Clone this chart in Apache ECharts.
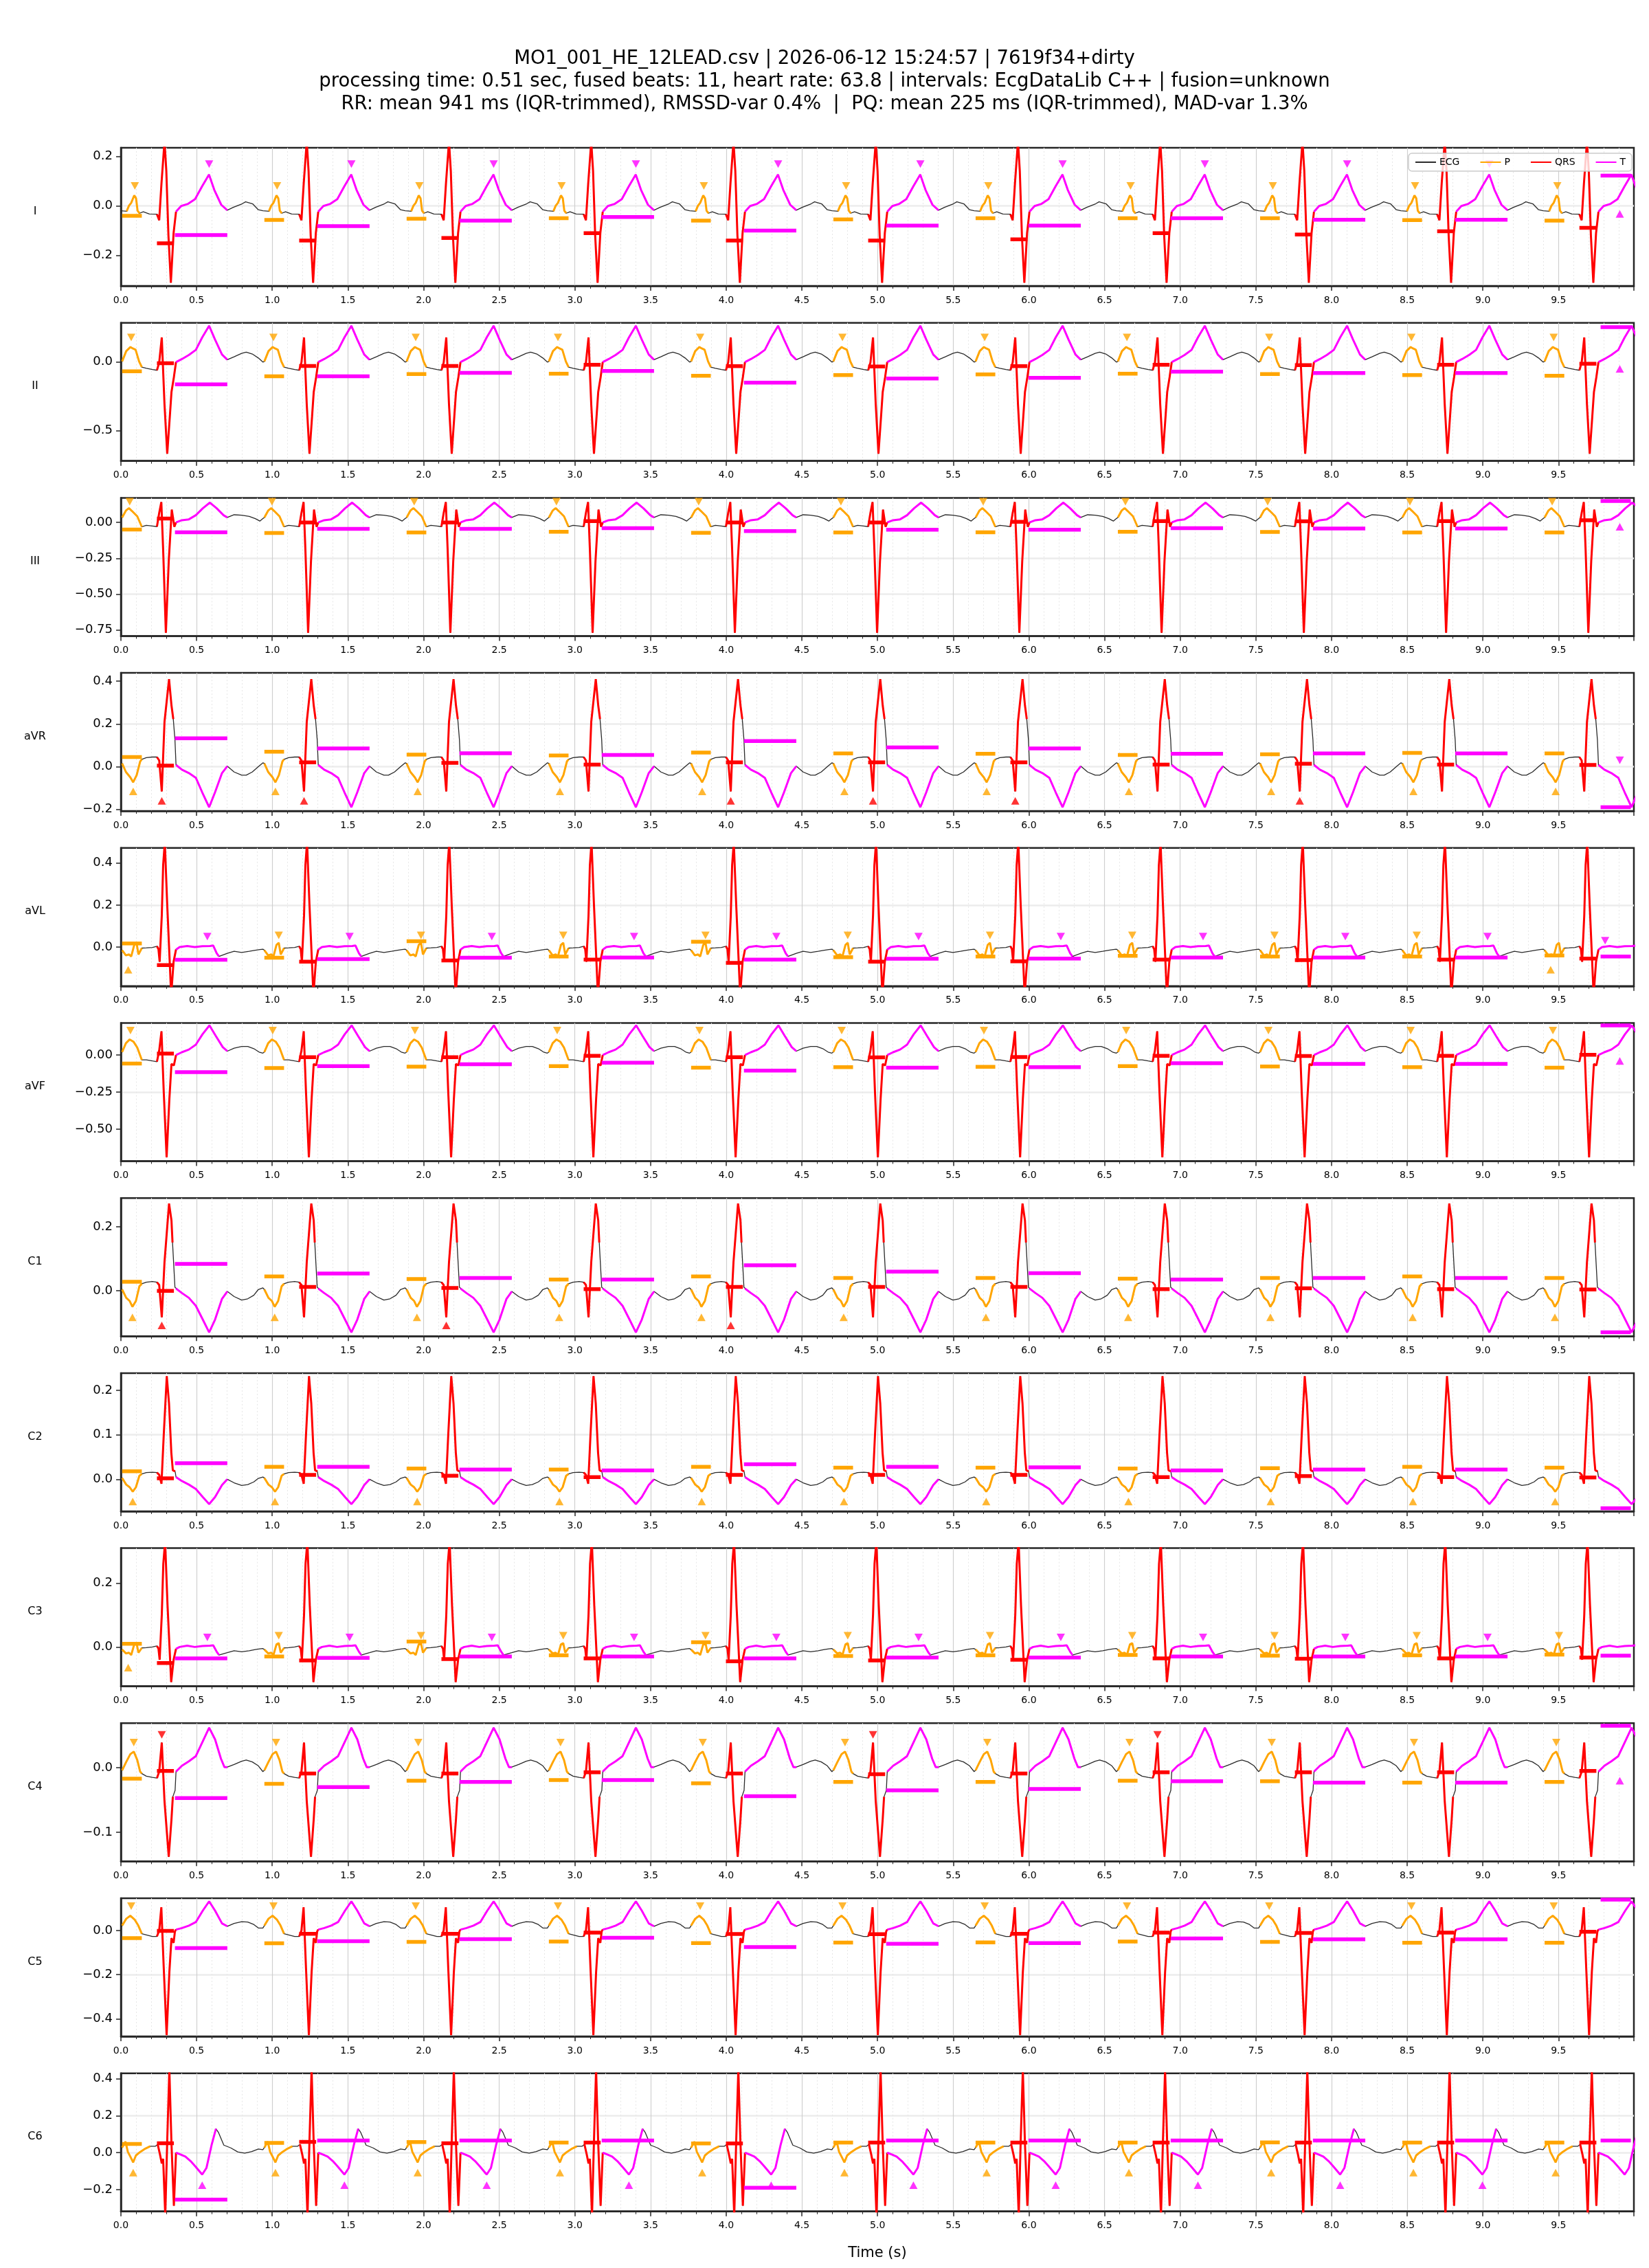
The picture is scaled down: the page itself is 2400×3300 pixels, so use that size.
<!DOCTYPE html>
<html>
<head>
<meta charset="utf-8">
<title>12-lead ECG</title>
<script src="https://cdn.jsdelivr.net/npm/echarts@6/dist/echarts.min.js"></script>
<style>
  html, body { margin: 0; padding: 0; background: #fff; }
  #chart { width: 2400px; height: 3300px; }
</style>
</head>
<body>
<div id="chart"></div>
<script>
// ---- data ----
const LEADS = ['I', 'II', 'III', 'aVR', 'aVL', 'aVF', 'C1', 'C2', 'C3', 'C4', 'C5', 'C6'];
const BEAT_R = [0.288, 1.228, 2.168, 3.108, 4.048, 4.988, 5.928, 6.868, 7.808, 8.748, 9.688];
const X_MAX = 9.998;
const X_TICK_STEP = 0.5;

const Y_MIN = [-0.323, -0.723, -0.793, -0.208, -0.186, -0.716, -0.142, -0.072, -0.123, -0.145, -0.48, -0.318];
const Y_MAX = [0.234, 0.287, 0.172, 0.439, 0.472, 0.216, 0.29, 0.239, 0.309, 0.069, 0.146, 0.43];
const Y_TICKS = [
  [-0.2, 0, 0.2], [-0.5, 0], [-0.75, -0.5, -0.25, 0], [-0.2, 0, 0.2, 0.4],
  [0, 0.2, 0.4], [-0.5, -0.25, 0], [0, 0.2], [0, 0.1, 0.2],
  [0, 0.2], [-0.1, 0], [-0.4, -0.2, 0], [-0.2, 0, 0.2, 0.4]
];
const Y_DECIMALS = [1, 1, 2, 1, 1, 2, 1, 1, 1, 1, 1, 1];

// bar spans relative to R peak (s): P, QRS, T; the last beat's T bar is cut short
const BAR_SPANS = [[-0.28, -0.15], [-0.05, 0.062], [0.069, 0.415]];
const LAST_T_SPAN = [0.09, 0.29];
const ALL = [0, 1, 2, 3, 4, 5, 6, 7, 8, 9, 10];
const FIRST10 = [0, 1, 2, 3, 4, 5, 6, 7, 8, 9];
const MID = [1, 2, 3, 4, 5, 6, 7, 8, 9];

// beat templates: [offset from R (s), mV]
const I_TPL = [[-0.29,-0.02],[-0.25,-0.022],[-0.235,0.0],[-0.22,0.012],[-0.2,0.042],[-0.188,0.03],[-0.178,-0.02],[-0.165,-0.03],[-0.14,-0.024],[-0.1,-0.033],[-0.05,-0.034],[-0.035,-0.058],[-0.02,0.09],[0,0.26],[0.012,0.14],[0.026,-0.12],[0.042,-0.31],[0.06,-0.11],[0.076,-0.024],[0.11,-0.001],[0.156,0.008],[0.202,0.027],[0.248,0.078],[0.294,0.126],[0.329,0.064],[0.375,0.004],[0.415,-0.018],[0.455,-0.006],[0.513,0.008],[0.536,0.016],[0.582,0.008],[0.62,-0.016]];
const II_TPL = [[-0.29,0.0],[-0.28,0.005],[-0.253,0.08],[-0.225,0.11],[-0.21,0.1],[-0.191,0.09],[-0.168,0.005],[-0.15,-0.037],[-0.12,-0.045],[-0.08,-0.054],[-0.05,-0.06],[-0.035,-0.003],[-0.018,0.18],[0,-0.31],[0.018,-0.67],[0.035,-0.4],[0.046,-0.22],[0.062,-0.11],[0.076,0.0],[0.115,0.022],[0.161,0.052],[0.207,0.089],[0.249,0.18],[0.295,0.265],[0.334,0.164],[0.38,0.055],[0.415,0.017],[0.46,0.039],[0.51,0.064],[0.54,0.072],[0.58,0.059],[0.62,0.03]];
const III_TPL = [[-0.29,0.027],[-0.28,0.035],[-0.255,0.083],[-0.235,0.1],[-0.215,0.08],[-0.18,0.043],[-0.15,-0.03],[-0.12,-0.02],[-0.08,-0.025],[-0.05,-0.029],[-0.035,0.067],[-0.021,0.143],[-0.009,-0.19],[0.009,-0.77],[0.028,-0.27],[0.048,0.09],[0.065,-0.03],[0.076,0.0],[0.115,0.016],[0.161,0.022],[0.207,0.051],[0.253,0.099],[0.3,0.139],[0.345,0.099],[0.39,0.051],[0.415,0.035],[0.46,0.054],[0.51,0.051],[0.56,0.043],[0.6,0.027],[0.63,0.01]];
const AVR_TPL = [[-0.29,0.018],[-0.28,0.015],[-0.255,-0.025],[-0.226,-0.05],[-0.207,-0.073],[-0.184,-0.04],[-0.161,0.024],[-0.15,0.034],[-0.12,0.042],[-0.08,0.045],[-0.05,0.045],[-0.035,0.029],[-0.018,-0.116],[0,0.21],[0.03,0.41],[0.046,0.287],[0.058,0.223],[0.069,0.126],[0.076,0.008],[0.115,-0.014],[0.161,-0.03],[0.207,-0.052],[0.249,-0.12],[0.295,-0.19],[0.334,-0.12],[0.38,-0.03],[0.415,0.002],[0.46,-0.025],[0.51,-0.04],[0.54,-0.04],[0.58,-0.025],[0.62,0.0]];
const AVL_TPL = [[-0.29,-0.01],[-0.28,-0.015],[-0.255,-0.04],[-0.235,-0.035],[-0.22,-0.045],[-0.2,0.01],[-0.185,0.02],[-0.172,-0.035],[-0.15,-0.005],[-0.12,-0.004],[-0.08,-0.002],[-0.05,0.004],[-0.04,-0.01],[-0.032,-0.07],[-0.018,0.15],[-0.009,0.39],[0.002,0.5],[0.018,0.2],[0.044,-0.23],[0.06,-0.07],[0.076,-0.012],[0.1,0.0],[0.15,0.005],[0.2,0.0],[0.25,0.004],[0.3,0.005],[0.322,0.007],[0.345,-0.03],[0.36,-0.045],[0.415,-0.03],[0.46,-0.02],[0.51,-0.026],[0.56,-0.02],[0.6,-0.015],[0.63,-0.012]];
const AVF_TPL = [[-0.29,0.013],[-0.28,0.02],[-0.255,0.08],[-0.23,0.105],[-0.205,0.09],[-0.18,0.05],[-0.15,-0.033],[-0.12,-0.033],[-0.08,-0.04],[-0.05,-0.045],[-0.035,0.03],[-0.02,0.16],[-0.005,-0.25],[0.014,-0.69],[0.032,-0.3],[0.046,-0.06],[0.062,-0.07],[0.076,0.0],[0.115,0.019],[0.161,0.037],[0.207,0.07],[0.251,0.14],[0.297,0.2],[0.338,0.13],[0.385,0.053],[0.415,0.026],[0.46,0.046],[0.51,0.058],[0.55,0.058],[0.59,0.043],[0.625,0.02]];
const C1_TPL = [[-0.29,0.009],[-0.28,0.004],[-0.253,-0.022],[-0.23,-0.032],[-0.212,-0.05],[-0.189,-0.032],[-0.166,0.014],[-0.15,0.022],[-0.12,0.027],[-0.08,0.029],[-0.05,0.027],[-0.035,0.018],[-0.018,-0.083],[0,0.09],[0.03,0.273],[0.046,0.22],[0.053,0.151],[0.069,0.011],[0.076,0.007],[0.115,-0.007],[0.161,-0.022],[0.207,-0.047],[0.253,-0.09],[0.295,-0.13],[0.334,-0.09],[0.38,-0.025],[0.415,-0.002],[0.46,-0.018],[0.51,-0.029],[0.55,-0.025],[0.59,-0.014],[0.62,0.004]];
const C2_TPL = [[-0.29,0.005],[-0.28,0.003],[-0.253,-0.012],[-0.23,-0.018],[-0.21,-0.028],[-0.189,-0.018],[-0.166,0.008],[-0.15,0.012],[-0.12,0.015],[-0.08,0.016],[-0.05,0.015],[-0.035,0.01],[-0.02,-0.01],[-0.005,0.1],[0.015,0.232],[0.03,0.17],[0.045,0.06],[0.055,0.02],[0.07,0.018],[0.076,0.005],[0.115,-0.004],[0.161,-0.012],[0.207,-0.022],[0.253,-0.04],[0.295,-0.056],[0.334,-0.04],[0.38,-0.013],[0.415,0.0],[0.46,-0.008],[0.51,-0.014],[0.55,-0.012],[0.59,-0.006],[0.62,0.002]];
const C3_TPL = [[-0.29,-0.005],[-0.28,-0.008],[-0.255,-0.02],[-0.235,-0.018],[-0.22,-0.025],[-0.2,0.008],[-0.185,0.012],[-0.172,-0.018],[-0.15,-0.003],[-0.12,-0.002],[-0.08,0.0],[-0.05,0.003],[-0.04,-0.005],[-0.032,-0.04],[-0.018,0.1],[-0.008,0.26],[0.004,0.33],[0.02,0.13],[0.044,-0.11],[0.06,-0.04],[0.076,-0.006],[0.1,0.0],[0.15,0.004],[0.2,0.0],[0.25,0.003],[0.3,0.004],[0.322,0.005],[0.345,-0.015],[0.36,-0.025],[0.415,-0.018],[0.46,-0.012],[0.51,-0.015],[0.56,-0.012],[0.6,-0.008],[0.63,-0.006]];
const C4_TPL = [[-0.29,-0.006],[-0.28,-0.004],[-0.253,0.009],[-0.226,0.021],[-0.203,0.025],[-0.18,0.012],[-0.161,-0.006],[-0.15,-0.009],[-0.12,-0.013],[-0.08,-0.015],[-0.05,-0.016],[-0.035,-0.006],[-0.018,0.039],[0,-0.052],[0.028,-0.138],[0.046,-0.08],[0.055,-0.045],[0.07,-0.035],[0.076,-0.006],[0.115,0.003],[0.161,0.01],[0.207,0.018],[0.253,0.041],[0.295,0.062],[0.334,0.044],[0.373,0.014],[0.396,0.001],[0.415,0.001],[0.46,0.005],[0.51,0.01],[0.54,0.012],[0.58,0.009],[0.62,0.003]];
const C5_TPL = [[-0.29,0.011],[-0.28,0.022],[-0.253,0.053],[-0.226,0.067],[-0.196,0.048],[-0.173,0.022],[-0.15,-0.015],[-0.12,-0.02],[-0.08,-0.027],[-0.05,-0.027],[-0.035,0.0],[-0.021,0.105],[-0.005,-0.17],[0.014,-0.474],[0.032,-0.19],[0.046,-0.035],[0.06,-0.056],[0.069,-0.004],[0.076,0.004],[0.115,0.011],[0.161,0.022],[0.207,0.038],[0.253,0.09],[0.295,0.132],[0.334,0.09],[0.38,0.032],[0.415,0.019],[0.46,0.032],[0.51,0.04],[0.55,0.038],[0.59,0.027],[0.62,0.011]];
const C6_TPL = [[-0.29,0.016],[-0.28,0.028],[-0.258,0.06],[-0.242,0.004],[-0.226,-0.021],[-0.207,-0.052],[-0.189,-0.015],[-0.161,0.004],[-0.127,0.022],[-0.095,0.035],[-0.06,0.035],[-0.045,0.045],[-0.03,-0.009],[-0.018,-0.058],[-0.009,-0.033],[0.005,-0.34],[0.018,0.066],[0.032,0.45],[0.046,0.05],[0.062,-0.287],[0.076,0.0],[0.104,-0.009],[0.138,-0.021],[0.173,-0.046],[0.207,-0.077],[0.249,-0.118],[0.277,-0.083],[0.311,0.041],[0.34,0.13],[0.357,0.109],[0.392,0.041],[0.438,0.026],[0.484,0.004],[0.53,-0.002],[0.576,0.006],[0.62,0.02]];

// wave windows per lead (offset from R): P, QRS, T
const I_SEG = [[-0.25, -0.165], [-0.05, 0.076], [0.076, 0.415]];
const II_SEG = [[-0.28, -0.15], [-0.05, 0.076], [0.076, 0.415]];
const III_SEG = [[-0.28, -0.15], [-0.05, 0.076], [0.076, 0.415]];
const AVR_SEG = [[-0.28, -0.15], [-0.05, 0.058], [0.076, 0.415]];
const AVL_SEG = [[-0.28, -0.15], [-0.05, 0.076], [0.076, 0.36]];
const AVF_SEG = [[-0.28, -0.15], [-0.05, 0.076], [0.076, 0.415]];
const C1_SEG = [[-0.28, -0.15], [-0.05, 0.053], [0.076, 0.415]];
const C2_SEG = [[-0.28, -0.15], [-0.05, 0.07], [0.076, 0.415]];
const C3_SEG = [[-0.28, -0.15], [-0.05, 0.076], [0.076, 0.36]];
const C4_SEG = [[-0.28, -0.15], [-0.05, 0.055], [0.076, 0.415]];
const C5_SEG = [[-0.28, -0.15], [-0.05, 0.076], [0.076, 0.415]];
const C6_SEG = [[-0.28, -0.095], [-0.045, 0.076], [0.076, 0.34]];

// per-beat bar levels: P, QRS, T
const I_PBAR = [-0.040,-0.057,-0.052,-0.050,-0.060,-0.055,-0.050,-0.050,-0.050,-0.058,-0.060];
const I_QBAR = [-0.151,-0.140,-0.130,-0.110,-0.140,-0.140,-0.135,-0.110,-0.116,-0.103,-0.089];
const I_TBAR = [-0.118,-0.082,-0.060,-0.045,-0.100,-0.080,-0.080,-0.050,-0.056,-0.056,0.122];
const II_PBAR = [-0.067,-0.104,-0.087,-0.085,-0.100,-0.095,-0.090,-0.085,-0.088,-0.095,-0.100];
const II_QBAR = [-0.008,-0.029,-0.029,-0.020,-0.030,-0.032,-0.030,-0.020,-0.022,-0.020,-0.012];
const II_TBAR = [-0.163,-0.104,-0.079,-0.065,-0.150,-0.120,-0.115,-0.070,-0.080,-0.080,0.255];
const III_PBAR = [-0.049,-0.073,-0.070,-0.065,-0.072,-0.070,-0.068,-0.065,-0.066,-0.070,-0.070];
const III_QBAR = [0.027,0.000,0.000,0.010,0.000,0.000,0.005,0.010,0.008,0.010,0.015];
const III_TBAR = [-0.068,-0.045,-0.045,-0.040,-0.060,-0.050,-0.050,-0.040,-0.042,-0.042,0.150];
const AVR_PBAR = [0.045,0.070,0.056,0.052,0.066,0.062,0.060,0.055,0.058,0.064,0.062];
const AVR_QBAR = [0.005,0.020,0.018,0.010,0.020,0.020,0.020,0.010,0.014,0.010,0.008];
const AVR_TBAR = [0.133,0.085,0.063,0.055,0.120,0.090,0.085,0.060,0.062,0.062,-0.190];
const AVL_PBAR = [0.017,-0.051,0.028,-0.045,0.025,-0.048,-0.045,-0.042,-0.045,-0.045,-0.040];
const AVL_QBAR = [-0.086,-0.070,-0.064,-0.060,-0.075,-0.070,-0.068,-0.060,-0.062,-0.060,-0.055];
const AVL_TBAR = [-0.061,-0.057,-0.051,-0.050,-0.060,-0.056,-0.055,-0.050,-0.050,-0.050,-0.045];
const AVF_PBAR = [-0.058,-0.088,-0.078,-0.075,-0.085,-0.082,-0.080,-0.075,-0.077,-0.082,-0.085];
const AVF_QBAR = [0.010,-0.015,-0.015,-0.005,-0.015,-0.016,-0.013,-0.005,-0.007,-0.005,0.002];
const AVF_TBAR = [-0.115,-0.075,-0.062,-0.052,-0.105,-0.085,-0.082,-0.055,-0.060,-0.060,0.200];
const C1_PBAR = [0.028,0.045,0.037,0.035,0.045,0.040,0.040,0.038,0.040,0.045,0.040];
const C1_QBAR = [0.000,0.012,0.009,0.005,0.012,0.012,0.012,0.005,0.008,0.005,0.004];
const C1_TBAR = [0.084,0.054,0.040,0.035,0.080,0.060,0.055,0.035,0.040,0.040,-0.130];
const C2_PBAR = [0.018,0.028,0.024,0.022,0.028,0.026,0.026,0.024,0.025,0.028,0.026];
const C2_QBAR = [0.002,0.010,0.008,0.005,0.010,0.010,0.010,0.005,0.007,0.005,0.004];
const C2_TBAR = [0.036,0.028,0.022,0.020,0.034,0.028,0.027,0.020,0.022,0.022,-0.065];
const C3_PBAR = [0.010,-0.030,0.017,-0.026,0.015,-0.028,-0.026,-0.025,-0.027,-0.026,-0.024];
const C3_QBAR = [-0.050,-0.042,-0.038,-0.036,-0.045,-0.042,-0.040,-0.036,-0.037,-0.036,-0.033];
const C3_TBAR = [-0.036,-0.034,-0.030,-0.030,-0.036,-0.033,-0.033,-0.030,-0.030,-0.030,-0.027];
const C4_PBAR = [-0.017,-0.025,-0.020,-0.019,-0.024,-0.022,-0.022,-0.020,-0.021,-0.023,-0.022];
const C4_QBAR = [-0.005,-0.009,-0.009,-0.007,-0.009,-0.010,-0.009,-0.007,-0.007,-0.007,-0.005];
const C4_TBAR = [-0.047,-0.030,-0.022,-0.019,-0.044,-0.035,-0.033,-0.021,-0.023,-0.023,0.065];
const C5_PBAR = [-0.035,-0.058,-0.052,-0.050,-0.057,-0.055,-0.054,-0.050,-0.052,-0.056,-0.056];
const C5_QBAR = [-0.002,-0.015,-0.015,-0.010,-0.016,-0.017,-0.015,-0.010,-0.011,-0.010,-0.006];
const C5_TBAR = [-0.080,-0.049,-0.039,-0.033,-0.075,-0.060,-0.057,-0.036,-0.040,-0.040,0.140];
const C6_PBAR = [0.047,0.053,0.058,0.055,0.050,0.055,0.055,0.055,0.056,0.055,0.055];
const C6_QBAR = [0.051,0.059,0.051,0.055,0.050,0.055,0.055,0.055,0.055,0.055,0.055];
const C6_TBAR = [-0.254,0.066,0.066,0.066,-0.190,0.066,0.066,0.066,0.066,0.066,0.066];

// markers: [wave, offset from R, mV, direction, beats]
const I_MARKS = [['P', -0.196, 0.08, 'down', ALL], ['T', 0.295, 0.168, 'down', FIRST10], ['T', 0.217, -0.033, 'up', [10]]];
const II_MARKS = [['P', -0.22, 0.18, 'down', ALL], ['T', 0.217, -0.05, 'up', [10]]];
const III_MARKS = [['P', -0.23, 0.145, 'down', ALL], ['T', 0.217, -0.03, 'up', [10]]];
const AVR_MARKS = [['P', -0.207, -0.116, 'up', ALL], ['QRS', -0.018, -0.16, 'up', [0, 1, 4, 5, 6, 8]], ['T', 0.217, 0.03, 'down', [10]]];
const AVL_MARKS = [['P', -0.24, -0.108, 'up', [0, 10]], ['P', -0.185, 0.056, 'down', MID], ['T', 0.283, 0.05, 'down', FIRST10], ['T', 0.12, 0.03, 'down', [10]]];
const AVF_MARKS = [['P', -0.225, 0.165, 'down', ALL], ['T', 0.217, -0.04, 'up', [10]]];
const C1_MARKS = [['P', -0.212, -0.083, 'up', ALL], ['QRS', -0.018, -0.108, 'up', [0, 2, 4]]];
const C2_MARKS = [['P', -0.21, -0.05, 'up', ALL]];
const C3_MARKS = [['P', -0.24, -0.065, 'up', [0]], ['P', -0.185, 0.035, 'down', [1, 2, 3, 4, 5, 6, 7, 8, 9, 10]], ['T', 0.283, 0.03, 'down', FIRST10]];
const C4_MARKS = [['P', -0.203, 0.039, 'down', ALL], ['QRS', -0.018, 0.051, 'down', [0, 5, 7]], ['T', 0.217, -0.02, 'up', [10]]];
const C5_MARKS = [['P', -0.22, 0.11, 'down', ALL]];
const C6_MARKS = [['P', -0.207, -0.108, 'up', ALL], ['T', 0.249, -0.176, 'up', FIRST10]];

const TITLE_LINES = [
  'MO1_001_HE_12LEAD.csv | 2026-06-12 15:24:57 | 7619f34+dirty',
  'processing time: 0.51 sec, fused beats: 11, heart rate: 63.8 | intervals: EcgDataLib C++ | fusion=unknown',
  'RR: mean 941 ms (IQR-trimmed), RMSSD-var 0.4%  |  PQ: mean 225 ms (IQR-trimmed), MAD-var 1.3%'
];

// ---- table built from the arrays above ----
const LEAD_TABLE = [
  [I_TPL, I_SEG, I_PBAR, I_QBAR, I_TBAR, I_MARKS],
  [II_TPL, II_SEG, II_PBAR, II_QBAR, II_TBAR, II_MARKS],
  [III_TPL, III_SEG, III_PBAR, III_QBAR, III_TBAR, III_MARKS],
  [AVR_TPL, AVR_SEG, AVR_PBAR, AVR_QBAR, AVR_TBAR, AVR_MARKS],
  [AVL_TPL, AVL_SEG, AVL_PBAR, AVL_QBAR, AVL_TBAR, AVL_MARKS],
  [AVF_TPL, AVF_SEG, AVF_PBAR, AVF_QBAR, AVF_TBAR, AVF_MARKS],
  [C1_TPL, C1_SEG, C1_PBAR, C1_QBAR, C1_TBAR, C1_MARKS],
  [C2_TPL, C2_SEG, C2_PBAR, C2_QBAR, C2_TBAR, C2_MARKS],
  [C3_TPL, C3_SEG, C3_PBAR, C3_QBAR, C3_TBAR, C3_MARKS],
  [C4_TPL, C4_SEG, C4_PBAR, C4_QBAR, C4_TBAR, C4_MARKS],
  [C5_TPL, C5_SEG, C5_PBAR, C5_QBAR, C5_TBAR, C5_MARKS],
  [C6_TPL, C6_SEG, C6_PBAR, C6_QBAR, C6_TBAR, C6_MARKS]
];

const COLORS = { ECG: '#2b2b2b', P: '#ffa500', QRS: '#ff0000', T: '#ff00ff' };
const FONT = 'DejaVu Sans';
const GRID_TOP = 215, GRID_STEP = 254.7, GRID_H = 201, GRID_LEFT = 176, GRID_RIGHT = 22;
const EPS = 1e-9;

function fullTrace (tpl) {
  const out = [];
  BEAT_R.forEach(r => tpl.forEach(p => out.push([r + p[0], p[1]])));
  return out;
}

function waveSegments (tpl, win) {
  const out = [];
  BEAT_R.forEach(r => {
    tpl.forEach(p => {
      if (p[0] >= win[0] - EPS && p[0] <= win[1] + EPS) out.push([r + p[0], p[1]]);
    });
    out.push([r + win[1], '-']);
  });
  return out;
}

function barSegments (levels, span, lastSpan) {
  const out = [];
  BEAT_R.forEach((r, k) => {
    const s = (lastSpan && k === BEAT_R.length - 1) ? lastSpan : span;
    out.push([r + s[0], levels[k]], [r + s[1], levels[k]], [r + s[1], '-']);
  });
  return out;
}

function fmtY (dec) {
  return v => (v < -EPS ? '\u2212' : '') + Math.abs(v).toFixed(dec);
}

const grids = [], xAxes = [], yAxes = [], series = [], graphics = [];

LEADS.forEach((lead, i) => {
  const [tpl, seg, pbar, qbar, tbar, marks] = LEAD_TABLE[i];
  const top = GRID_TOP + i * GRID_STEP;
  grids.push({
    left: GRID_LEFT, right: GRID_RIGHT, top: top, height: GRID_H,
    show: true, borderColor: '#262626', borderWidth: 2.5, backgroundColor: '#fff'
  });
  const last = i === LEADS.length - 1;
  xAxes.push({
    type: 'value', gridIndex: i, min: 0, max: X_MAX, interval: X_TICK_STEP,
    axisLine: { show: true, onZero: false, lineStyle: { color: '#262626', width: 2.5 } },
    axisTick: { show: true, length: 7, lineStyle: { color: '#262626', width: 1.5 } },
    minorTick: { show: true, splitNumber: 5, length: 4, lineStyle: { color: '#262626', width: 1 } },
    axisLabel: {
      fontFamily: FONT, fontSize: 14, color: '#000', margin: 14,
      formatter: v => (Math.abs(v / X_TICK_STEP - Math.round(v / X_TICK_STEP)) < 1e-6 ? v.toFixed(1) : '')
    },
    splitLine: { show: true, showMinLine: false, showMaxLine: false, lineStyle: { color: '#cfcfcf', width: 1.2 } },
    minorSplitLine: { show: true, lineStyle: { color: '#e6e6e6', width: 1, type: [2, 3] } },
    name: last ? 'Time (s)' : '',
    nameLocation: 'middle', nameGap: 50,
    nameTextStyle: { fontFamily: FONT, fontSize: 21, color: '#000' }
  });
  yAxes.push({
    type: 'value', gridIndex: i, min: Y_MIN[i], max: Y_MAX[i],
    axisLine: { show: true, onZero: false, lineStyle: { color: '#262626', width: 2.5 } },
    axisTick: { show: true, length: 7, customValues: Y_TICKS[i], lineStyle: { color: '#262626', width: 1.5 } },
    axisLabel: {
      customValues: Y_TICKS[i], fontFamily: FONT, fontSize: 18, color: '#000', margin: 12,
      formatter: fmtY(Y_DECIMALS[i])
    },
    splitLine: { show: true, showMinLine: false, showMaxLine: false, lineStyle: { color: '#ececec', width: 2.5 } }
  });

  const ax = { xAxisIndex: i, yAxisIndex: i };
  const lineBase = { type: 'line', showSymbol: false, symbol: 'none', connectNulls: false, animation: false, silent: true };
  series.push(Object.assign({}, lineBase, ax, {
    name: 'ECG', data: fullTrace(tpl), lineStyle: { color: COLORS.ECG, width: 1.3 }, itemStyle: { color: COLORS.ECG }, z: 2
  }));
  ['P', 'QRS', 'T'].forEach((w, j) => {
    series.push(Object.assign({}, lineBase, ax, {
      name: w, data: waveSegments(tpl, seg[j]), lineStyle: { color: COLORS[w], width: 3 }, itemStyle: { color: COLORS[w] }, z: 3
    }));
  });
  [[pbar, 'P'], [qbar, 'QRS'], [tbar, 'T']].forEach(([lv, w], j) => {
    series.push(Object.assign({}, lineBase, ax, {
      name: w + ' level', data: barSegments(lv, BAR_SPANS[j], w === 'T' ? LAST_T_SPAN : null),
      lineStyle: { color: COLORS[w], width: 5.5, cap: 'butt' }, itemStyle: { color: COLORS[w] }, z: 4
    }));
  });
  ['up', 'down'].forEach(dir => {
    const pts = [];
    marks.filter(m => m[3] === dir).forEach(m => {
      m[4].forEach(k => {
        const t = BEAT_R[k] + m[1];
        if (t >= 0 && t <= X_MAX) pts.push({ value: [t, m[2]], itemStyle: { color: COLORS[m[0]] } });
      });
    });
    series.push(Object.assign({}, ax, {
      type: 'scatter', name: 'marker ' + dir, data: pts, symbol: 'triangle',
      symbolSize: [12, 11], symbolRotate: dir === 'down' ? 180 : 0, animation: false, silent: true, z: 5
    }));
  });

  graphics.push({
    type: 'text', x: 51, y: top + GRID_H / 2 - 8,
    style: { text: lead, fontFamily: FONT, fontSize: 16, fill: '#000', textAlign: 'center', textVerticalAlign: 'middle' }
  });
});

const chart = echarts.init(document.getElementById('chart'), null, { renderer: 'canvas' });
chart.setOption({
  backgroundColor: '#fff',
  animation: false,
  title: {
    text: TITLE_LINES.join('\n'), left: 'center', top: 64,
    textStyle: { fontFamily: FONT, fontSize: 27.5, fontWeight: 'normal', color: '#000', lineHeight: 33 }
  },
  legend: {
    data: ['ECG', 'P', 'QRS', 'T'], left: 2050, top: 223, orient: 'horizontal',
    itemWidth: 30, itemHeight: 12, itemGap: 29,
    itemStyle: { opacity: 0 },
    textStyle: { fontFamily: FONT, fontSize: 14, color: '#000' },
    backgroundColor: 'rgba(255,255,255,0.8)', borderColor: '#cccccc', borderWidth: 1.5, borderRadius: 5,
    padding: [6, 9], z: 10
  },
  grid: grids,
  xAxis: xAxes,
  yAxis: yAxes,
  series: series,
  graphic: graphics
});
</script>
</body>
</html>
